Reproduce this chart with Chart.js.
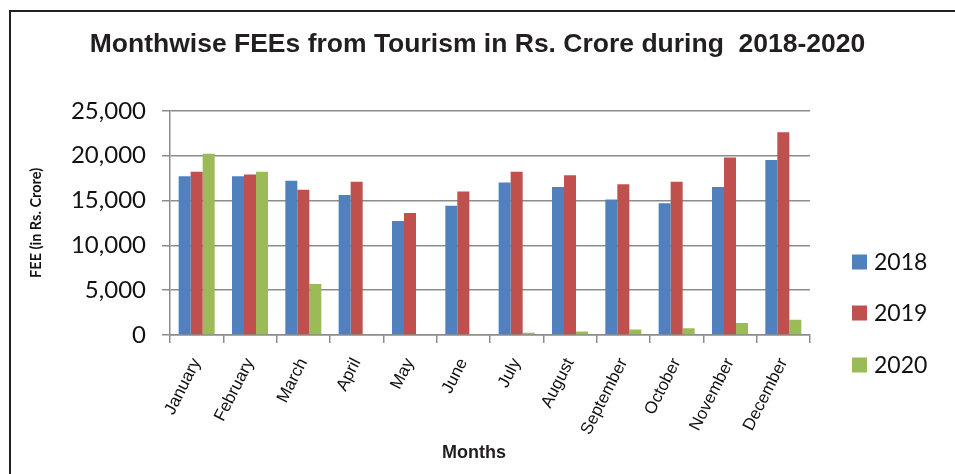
<!DOCTYPE html>
<html>
<head>
<meta charset="utf-8">
<script src="https://cdn.jsdelivr.net/npm/chart.js@4.4.1/dist/chart.umd.min.js"></script>
<style>
  html, body { margin: 0; padding: 0; background: #fff; }
  #wrap { position: relative; width: 955px; height: 474px; overflow: hidden; }
  #frame { position: absolute; left: 9px; top: 10px; width: 1000px; height: 1000px;
           border-left: 2.5px solid #231f20; border-top: 2.5px solid #231f20; pointer-events: none; }
  canvas { position: absolute; left: 0; top: 0; }
</style>
</head>
<body>
<div id="wrap">
  <canvas id="c" width="955" height="474"></canvas>
  <div id="frame"></div>
</div>
<script>
const months = ["January","February","March","April","May","June","July","August","September","October","November","December"];
const fee2018 = [17700, 17700, 17200, 15600, 12700, 14400, 17000, 16500, 15100, 14700, 16500, 19500];
const fee2019 = [18200, 17900, 16200, 17100, 13600, 16000, 18200, 17800, 16800, 17100, 19800, 22600];
const fee2020 = [20200, 18200, 5700, 0, 0, 100, 250, 400, 600, 750, 1350, 1700];
const yTicks = [0, 5000, 10000, 15000, 20000, 25000];
const seriesNames = ["2018", "2019", "2020"];
const seriesColors = ["#4F81BD", "#C0504D", "#9BBB59"];
const xTitle = "Months";

const gridColor = "#8c8c8c";

const extrasPlugin = {
  id: "extras",
  afterDraw(chart) {
    const ctx = chart.ctx;
    ctx.save();
    // legend
    const x0 = 852, ys = [262, 313, 365];
    chart.data.datasets.forEach((ds, i) => {
      ctx.fillStyle = ds.backgroundColor;
      ctx.fillRect(x0, ys[i] - 7.5, 15, 15);
      ctx.fillStyle = "#111";
      ctx.font = "23px Lato";
      ctx.textBaseline = "middle";
      ctx.textAlign = "left";
      ctx.fillText(ds.label, x0 + 22, ys[i] + 1);
    });
    // x axis title
    ctx.fillStyle = "#231f20";
    ctx.font = "bold 18px 'Liberation Sans'";
    ctx.textAlign = "center";
    ctx.textBaseline = "middle";
    ctx.fillText(xTitle, 474, 453);
    ctx.restore();
  }
};

new Chart(document.getElementById("c"), {
  type: "bar",
  data: {
    labels: months,
    datasets: [
      { label: seriesNames[0], data: fee2018, backgroundColor: seriesColors[0] },
      { label: seriesNames[1], data: fee2019, backgroundColor: seriesColors[1] },
      { label: seriesNames[2], data: fee2020, backgroundColor: seriesColors[2] }
    ]
  },
  options: {
    responsive: false,
    animation: false,
    layout: { padding: { left: 0, right: 0, top: 0, bottom: 0 } },
    datasets: { bar: { categoryPercentage: 0.675, barPercentage: 1.0, borderWidth: 0 } },
    plugins: {
      legend: { display: false },
      tooltip: { enabled: false },
      title: {
        display: true,
        text: "Monthwise FEEs from Tourism in Rs. Crore during  2018-2020",
        font: { family: "Liberation Sans", size: 26.5, weight: "bold", lineHeight: 1.2 },
        color: "#231f20",
        padding: { top: 29, bottom: 50 },
        align: "center",
        fullSize: true
      }
    },
    scales: {
      x: {
        grid: { display: true, drawOnChartArea: false, drawTicks: true, tickLength: 8, color: gridColor, lineWidth: 1.5, offset: true },
        border: { display: true, color: gridColor, width: 1.5 },
        ticks: {
          color: "#111", font: { family: "Liberation Sans", size: 17 },
          minRotation: 63, maxRotation: 63, padding: 12, autoSkip: false
        },
        afterFit(scale) { scale.height = 139; }
      },
      y: {
        min: 0, max: 25000,
        afterBuildTicks(scale) { scale.ticks = yTicks.map(v => ({ value: v })); },
        grid: { color: gridColor, lineWidth: 1.5, tickLength: 8, drawTicks: true },
        border: { display: true, color: gridColor, width: 1.5 },
        ticks: {
          color: "#111", font: { family: "Lato", size: 24 }, padding: 16,
          callback: (v) => v.toLocaleString("en-US")
        },
        title: {
          display: true, text: "FEE (in Rs. Crore)", color: "#111",
          font: { family: "Lato", size: 14.5, weight: "bold", lineHeight: 1.2 },
          padding: { top: 28, bottom: 0 }
        },
        afterFit(scale) { scale.width = 170; }
      },
      yRight: {
        position: "right",
        display: true,
        grid: { display: false, drawTicks: false },
        border: { display: false },
        ticks: { display: false },
        afterFit(scale) { scale.width = 145; }
      }
    }
  },
  plugins: [extrasPlugin]
});
</script>
</body>
</html>
